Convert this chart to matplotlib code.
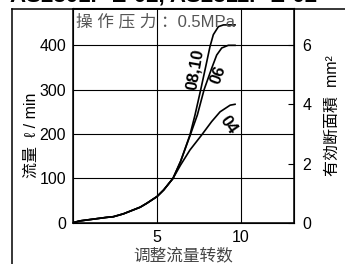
import matplotlib.pyplot as plt
from matplotlib.lines import Line2D

# common part of all curves (turns, flow l/min)
base_turns = [0, 0.4, 1, 2, 2.4, 3, 4, 4.4, 5, 5.4, 5.95]
base_flow = [0, 4, 7, 12, 13.5, 20, 35, 44, 59, 74, 100]

turns_04 = [5.95, 6.4, 6.96, 7.66, 8.25, 8.75, 9.35, 9.64]
flow_04 = [100, 130, 164, 198, 228, 250, 265, 267]

turns_06 = [5.95, 6.4, 6.96, 7.4, 7.8, 8.25, 8.55, 8.85, 9.24, 9.64]
flow_06 = [100, 138, 196, 243, 300, 348, 378, 394, 400, 400]

turns_0810 = [5.95, 6.4, 6.96, 7.26, 7.6, 7.92, 8.15, 8.35, 8.65, 8.95, 9.64]
flow_0810 = [100, 138, 198, 243, 300, 356, 397, 424, 442, 446, 446]

flow_ticks = [0, 100, 200, 300, 400]
turn_ticks = [5, 10]
area_ticks = [0, 2, 4, 6]

fam = ["Liberation Sans", "Noto Sans CJK SC", "DejaVu Sans"]
plt.rcParams["font.family"] = fam

fig = plt.figure(figsize=(3.45, 2.64), dpi=100)
ax = fig.add_axes([73 / 345, 1 - 222.7 / 264, 221 / 345, 214.2 / 264])

for t, f in [(turns_04, flow_04), (turns_06, flow_06), (turns_0810, flow_0810)]:
    ax.plot(base_turns + t[1:], base_flow + f[1:], color="black", lw=1.2)

ax.set_xlim(0, 13.15)
ax.set_ylim(0, 483)
ax.set_xticks(turn_ticks)
ax.set_yticks(flow_ticks)
ax.grid(True, color="black", lw=0.8)
ax.tick_params(length=0, labelsize=11.5, pad=5)
for s in ax.spines.values():
    s.set_linewidth(1.1)

ax2 = ax.twinx()
ax2.set_ylim(0, 483 / (400 / 6))
ax2.set_yticks(area_ticks)
ax2.tick_params(direction="in", length=4, width=0.8, labelsize=11.5, pad=6)

ax.set_xlabel("调整流量转数", fontsize=12, color="#444444", labelpad=2)
ax.text(-0.19, 0.41, "流量  ℓ / min", fontsize=11.5, rotation=90,
        ha="center", va="center", transform=ax.transAxes)
ax2.set_ylabel("有効断面積  mm²", fontsize=11.5, labelpad=10)

ax.text(0.2, 454, "操 作 压 力 ：0.5MPa", fontsize=12, color="#555555", va="center")
ax.text(7.26, 345, "08,10", fontsize=12, fontweight="bold", rotation=80,
        ha="center", va="center")
ax.text(8.65, 333, "06", fontsize=12, fontweight="bold", rotation=70,
        ha="center", va="center")
ax.text(9.24, 220, "04", fontsize=12, fontweight="bold", rotation=-55,
        ha="center", va="center")

# outer frame and clipped title
fig.add_artist(Line2D([12 / 345, 12 / 345], [0, 1 - 8.5 / 264], color="black", lw=1.1))
fig.add_artist(Line2D([12 / 345, 1], [1 - 8.5 / 264, 1 - 8.5 / 264], color="black", lw=1.1))
fig.text(10 / 345, 1 - 1.5 / 264, "AS2301F-E-02, AS2311F-E-02", fontsize=16,
         fontweight="bold", va="baseline")

fig.savefig("out.png", dpi=100)
